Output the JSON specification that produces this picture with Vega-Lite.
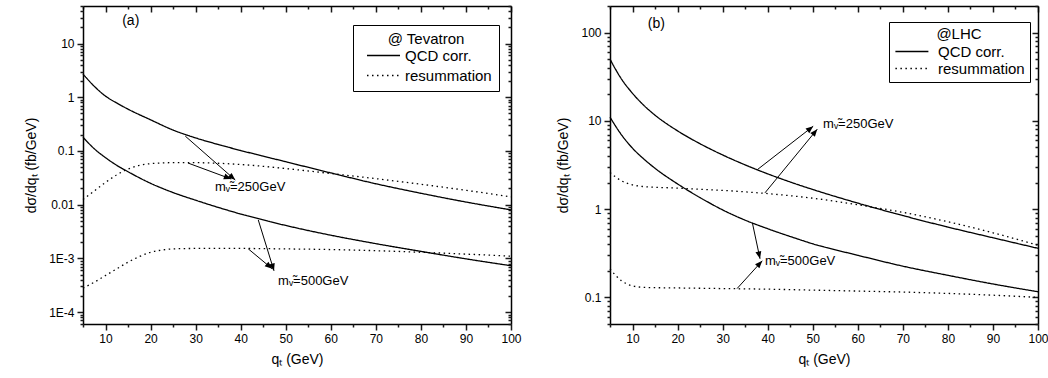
{
  "$schema": "https://vega.github.io/schema/vega-lite/v6.json",
  "background": "white",
  "padding": {"left": 24, "top": 5, "right": 5, "bottom": 5},
  "spacing": 34,
  "config": {
    "font": "Liberation Sans",
    "view": {"stroke": null},
    "axis": {"domainColor": "black", "domainWidth": 1.5, "ticks": true, "tickColor": "#1a1a1a", "tickWidth": 1.5, "tickOpacity": 1, "labelColor": "black", "titleColor": "black", "labelFontSize": 12, "titleFontSize": 14, "titleFontWeight": "normal", "grid": false, "labelOverlap": false, "labelFlush": false}
  },
  "datasets": {
    "tev": [
      {"type": "QCD corr.", "mass": 250, "q": 5, "v": 2.7},
      {"type": "QCD corr.", "mass": 250, "q": 7.5, "v": 1.6},
      {"type": "QCD corr.", "mass": 250, "q": 10, "v": 1.05},
      {"type": "QCD corr.", "mass": 250, "q": 12.5, "v": 0.78},
      {"type": "QCD corr.", "mass": 250, "q": 15, "v": 0.6},
      {"type": "QCD corr.", "mass": 250, "q": 20, "v": 0.38},
      {"type": "QCD corr.", "mass": 250, "q": 25, "v": 0.245},
      {"type": "QCD corr.", "mass": 250, "q": 30, "v": 0.175},
      {"type": "QCD corr.", "mass": 250, "q": 35, "v": 0.132},
      {"type": "QCD corr.", "mass": 250, "q": 40, "v": 0.102},
      {"type": "QCD corr.", "mass": 250, "q": 45, "v": 0.08},
      {"type": "QCD corr.", "mass": 250, "q": 50, "v": 0.063},
      {"type": "QCD corr.", "mass": 250, "q": 60, "v": 0.039},
      {"type": "QCD corr.", "mass": 250, "q": 70, "v": 0.0245},
      {"type": "QCD corr.", "mass": 250, "q": 80, "v": 0.0163},
      {"type": "QCD corr.", "mass": 250, "q": 90, "v": 0.0112},
      {"type": "QCD corr.", "mass": 250, "q": 100, "v": 0.008},
      {"type": "QCD corr.", "mass": 500, "q": 5, "v": 0.18},
      {"type": "QCD corr.", "mass": 500, "q": 7.5, "v": 0.11},
      {"type": "QCD corr.", "mass": 500, "q": 10, "v": 0.075},
      {"type": "QCD corr.", "mass": 500, "q": 12.5, "v": 0.054},
      {"type": "QCD corr.", "mass": 500, "q": 15, "v": 0.041},
      {"type": "QCD corr.", "mass": 500, "q": 20, "v": 0.025},
      {"type": "QCD corr.", "mass": 500, "q": 25, "v": 0.0168},
      {"type": "QCD corr.", "mass": 500, "q": 30, "v": 0.0121},
      {"type": "QCD corr.", "mass": 500, "q": 35, "v": 0.0089},
      {"type": "QCD corr.", "mass": 500, "q": 40, "v": 0.0067},
      {"type": "QCD corr.", "mass": 500, "q": 45, "v": 0.0052},
      {"type": "QCD corr.", "mass": 500, "q": 50, "v": 0.0041},
      {"type": "QCD corr.", "mass": 500, "q": 60, "v": 0.0027},
      {"type": "QCD corr.", "mass": 500, "q": 70, "v": 0.00188},
      {"type": "QCD corr.", "mass": 500, "q": 80, "v": 0.00135},
      {"type": "QCD corr.", "mass": 500, "q": 90, "v": 0.00098},
      {"type": "QCD corr.", "mass": 500, "q": 100, "v": 0.00073},
      {"type": "resummation", "mass": 250, "q": 5, "v": 0.0125},
      {"type": "resummation", "mass": 250, "q": 7.5, "v": 0.018},
      {"type": "resummation", "mass": 250, "q": 10, "v": 0.026},
      {"type": "resummation", "mass": 250, "q": 12.5, "v": 0.036},
      {"type": "resummation", "mass": 250, "q": 15, "v": 0.046},
      {"type": "resummation", "mass": 250, "q": 17.5, "v": 0.054},
      {"type": "resummation", "mass": 250, "q": 20, "v": 0.058},
      {"type": "resummation", "mass": 250, "q": 25, "v": 0.0605},
      {"type": "resummation", "mass": 250, "q": 30, "v": 0.0605},
      {"type": "resummation", "mass": 250, "q": 35, "v": 0.059},
      {"type": "resummation", "mass": 250, "q": 40, "v": 0.056},
      {"type": "resummation", "mass": 250, "q": 50, "v": 0.047},
      {"type": "resummation", "mass": 250, "q": 60, "v": 0.038},
      {"type": "resummation", "mass": 250, "q": 70, "v": 0.0305},
      {"type": "resummation", "mass": 250, "q": 80, "v": 0.024},
      {"type": "resummation", "mass": 250, "q": 90, "v": 0.0185},
      {"type": "resummation", "mass": 250, "q": 100, "v": 0.014},
      {"type": "resummation", "mass": 500, "q": 5, "v": 0.00028},
      {"type": "resummation", "mass": 500, "q": 7.5, "v": 0.00036},
      {"type": "resummation", "mass": 500, "q": 10, "v": 0.00048},
      {"type": "resummation", "mass": 500, "q": 12.5, "v": 0.00064},
      {"type": "resummation", "mass": 500, "q": 15, "v": 0.00085},
      {"type": "resummation", "mass": 500, "q": 17.5, "v": 0.00108},
      {"type": "resummation", "mass": 500, "q": 20, "v": 0.0013},
      {"type": "resummation", "mass": 500, "q": 22.5, "v": 0.00143},
      {"type": "resummation", "mass": 500, "q": 25, "v": 0.0015},
      {"type": "resummation", "mass": 500, "q": 30, "v": 0.00153},
      {"type": "resummation", "mass": 500, "q": 40, "v": 0.00153},
      {"type": "resummation", "mass": 500, "q": 50, "v": 0.0015},
      {"type": "resummation", "mass": 500, "q": 60, "v": 0.00146},
      {"type": "resummation", "mass": 500, "q": 70, "v": 0.00139},
      {"type": "resummation", "mass": 500, "q": 80, "v": 0.0013},
      {"type": "resummation", "mass": 500, "q": 90, "v": 0.0012},
      {"type": "resummation", "mass": 500, "q": 100, "v": 0.0011}
    ],
    "lhc": [
      {"type": "QCD corr.", "mass": 250, "q": 5, "v": 50},
      {"type": "QCD corr.", "mass": 250, "q": 7.5, "v": 30},
      {"type": "QCD corr.", "mass": 250, "q": 10, "v": 20.5},
      {"type": "QCD corr.", "mass": 250, "q": 12.5, "v": 15},
      {"type": "QCD corr.", "mass": 250, "q": 15, "v": 11.6},
      {"type": "QCD corr.", "mass": 250, "q": 20, "v": 7.7},
      {"type": "QCD corr.", "mass": 250, "q": 25, "v": 5.5},
      {"type": "QCD corr.", "mass": 250, "q": 30, "v": 4.11},
      {"type": "QCD corr.", "mass": 250, "q": 35, "v": 3.17},
      {"type": "QCD corr.", "mass": 250, "q": 40, "v": 2.51},
      {"type": "QCD corr.", "mass": 250, "q": 45, "v": 2.03},
      {"type": "QCD corr.", "mass": 250, "q": 50, "v": 1.67},
      {"type": "QCD corr.", "mass": 250, "q": 60, "v": 1.17},
      {"type": "QCD corr.", "mass": 250, "q": 70, "v": 0.846},
      {"type": "QCD corr.", "mass": 250, "q": 80, "v": 0.626},
      {"type": "QCD corr.", "mass": 250, "q": 90, "v": 0.474},
      {"type": "QCD corr.", "mass": 250, "q": 100, "v": 0.36},
      {"type": "QCD corr.", "mass": 500, "q": 5, "v": 11},
      {"type": "QCD corr.", "mass": 500, "q": 7.5, "v": 7},
      {"type": "QCD corr.", "mass": 500, "q": 10, "v": 4.9},
      {"type": "QCD corr.", "mass": 500, "q": 12.5, "v": 3.7},
      {"type": "QCD corr.", "mass": 500, "q": 15, "v": 2.9},
      {"type": "QCD corr.", "mass": 500, "q": 20, "v": 1.93},
      {"type": "QCD corr.", "mass": 500, "q": 25, "v": 1.35},
      {"type": "QCD corr.", "mass": 500, "q": 30, "v": 0.98},
      {"type": "QCD corr.", "mass": 500, "q": 35, "v": 0.75},
      {"type": "QCD corr.", "mass": 500, "q": 40, "v": 0.6},
      {"type": "QCD corr.", "mass": 500, "q": 45, "v": 0.49},
      {"type": "QCD corr.", "mass": 500, "q": 50, "v": 0.405},
      {"type": "QCD corr.", "mass": 500, "q": 60, "v": 0.3},
      {"type": "QCD corr.", "mass": 500, "q": 70, "v": 0.226},
      {"type": "QCD corr.", "mass": 500, "q": 80, "v": 0.178},
      {"type": "QCD corr.", "mass": 500, "q": 90, "v": 0.142},
      {"type": "QCD corr.", "mass": 500, "q": 100, "v": 0.116},
      {"type": "resummation", "mass": 250, "q": 5, "v": 2.6},
      {"type": "resummation", "mass": 250, "q": 7.5, "v": 2.1},
      {"type": "resummation", "mass": 250, "q": 10, "v": 1.88},
      {"type": "resummation", "mass": 250, "q": 12.5, "v": 1.8},
      {"type": "resummation", "mass": 250, "q": 15, "v": 1.77},
      {"type": "resummation", "mass": 250, "q": 20, "v": 1.73},
      {"type": "resummation", "mass": 250, "q": 25, "v": 1.68},
      {"type": "resummation", "mass": 250, "q": 30, "v": 1.63},
      {"type": "resummation", "mass": 250, "q": 35, "v": 1.57},
      {"type": "resummation", "mass": 250, "q": 40, "v": 1.5},
      {"type": "resummation", "mass": 250, "q": 45, "v": 1.42},
      {"type": "resummation", "mass": 250, "q": 50, "v": 1.33},
      {"type": "resummation", "mass": 250, "q": 60, "v": 1.12},
      {"type": "resummation", "mass": 250, "q": 70, "v": 0.92},
      {"type": "resummation", "mass": 250, "q": 80, "v": 0.72},
      {"type": "resummation", "mass": 250, "q": 90, "v": 0.54},
      {"type": "resummation", "mass": 250, "q": 100, "v": 0.39},
      {"type": "resummation", "mass": 500, "q": 5, "v": 0.21},
      {"type": "resummation", "mass": 500, "q": 7.5, "v": 0.155},
      {"type": "resummation", "mass": 500, "q": 10, "v": 0.135},
      {"type": "resummation", "mass": 500, "q": 12.5, "v": 0.13},
      {"type": "resummation", "mass": 500, "q": 15, "v": 0.129},
      {"type": "resummation", "mass": 500, "q": 20, "v": 0.128},
      {"type": "resummation", "mass": 500, "q": 30, "v": 0.126},
      {"type": "resummation", "mass": 500, "q": 40, "v": 0.124},
      {"type": "resummation", "mass": 500, "q": 50, "v": 0.121},
      {"type": "resummation", "mass": 500, "q": 60, "v": 0.118},
      {"type": "resummation", "mass": 500, "q": 70, "v": 0.115},
      {"type": "resummation", "mass": 500, "q": 80, "v": 0.111},
      {"type": "resummation", "mass": 500, "q": 90, "v": 0.106},
      {"type": "resummation", "mass": 500, "q": 100, "v": 0.1}
    ],
    "tevArrows": [
      {"id": "a1", "q1": 27.7, "v1": 0.189, "q2": 38.8, "v2": 0.0288},
      {"id": "a2", "q1": 28.3, "v1": 0.0596, "q2": 37.9, "v2": 0.03},
      {"id": "a3", "q1": 43.9, "v1": 0.0052, "q2": 47.4, "v2": 0.000586},
      {"id": "a4", "q1": 41.7, "v1": 0.0015, "q2": 47.0, "v2": 0.00064}
    ],
    "lhcArrows": [
      {"id": "b1", "q1": 37.7, "v1": 2.8, "q2": 50.1, "v2": 8.69},
      {"id": "b2", "q1": 39.4, "v1": 1.53, "q2": 51.0, "v2": 8.04},
      {"id": "b3", "q1": 36.6, "v1": 0.7, "q2": 38.3, "v2": 0.274},
      {"id": "b4", "q1": 33.2, "v1": 0.126, "q2": 38.8, "v2": 0.26}
    ],
    "tevText": [
      {"q": 34.3, "v": 0.0213, "label": "m\u1d65\u0303=250GeV", "size": "s"},
      {"q": 48.3, "v": 0.00038, "label": "m\u1d65\u0303=500GeV", "size": "s"},
      {"q": 13.7, "v": 26, "label": "(a)", "size": "l"}
    ],
    "lhcText": [
      {"q": 52.3, "v": 9.16, "label": "m\u1d65\u0303=250GeV", "size": "s"},
      {"q": 39.4, "v": 0.26, "label": "m\u1d65\u0303=500GeV", "size": "s"},
      {"q": 13.4, "v": 126, "label": "(b)", "size": "l"}
    ]
  },
  "resolve": {"scale": {"strokeDash": "independent"}, "legend": {"strokeDash": "independent"}},
  "hconcat": [
    {
      "width": 428,
      "height": 318,
      "resolve": {"axis": {"x": "independent", "y": "independent"}},
      "layer": [
        {
          "data": {"name": "tev"},
          "mark": {"type": "line", "color": "black", "strokeWidth": 1.3, "interpolate": "monotone"},
          "encoding": {
            "x": {"field": "q", "type": "quantitative", "scale": {"domain": [5, 100], "nice": false, "zero": false},
              "axis": {"orient": "bottom", "title": "q\u209c (GeV)", "values": [10, 20, 30, 40, 50, 60, 70, 80, 90, 100], "tickSize": 6, "tickColor": "#1a1a1a", "labelPadding": 3, "titlePadding": 8}},
            "y": {"field": "v", "type": "quantitative", "scale": {"type": "log", "domain": [6e-5, 50], "nice": false},
              "axis": {"orient": "left", "title": "d\u03c3/dq\u209c (fb/GeV)", "values": [1e-4, 1e-3, 0.01, 0.1, 1, 10],
                "labelExpr": "datum.value===10?'10':datum.value===1?'1':datum.value===0.1?'0.1':datum.value===0.01?'0.01':datum.value===0.001?'1E-3':'1E-4'",
                "tickSize": 6, "tickColor": "#1a1a1a", "labelPadding": 3, "titlePadding": 10}},
            "detail": {"field": "mass", "type": "nominal"},
            "strokeDash": {"field": "type", "type": "nominal",
              "scale": {"domain": ["QCD corr.", "resummation"], "range": [[1, 0], [1.5, 3.5]]},
              "legend": {"orient": "none", "legendX": 270, "legendY": 19, "title": "@ Tevatron", "titleAnchor": "middle", "titleFontSize": 15, "titleFontWeight": "normal", "titleColor": "black", "labelFontSize": 15, "labelColor": "black", "symbolType": "M-2.2,0L2.2,0", "symbolSize": 225, "symbolStrokeWidth": 1.3, "symbolStrokeColor": "black", "symbolOffset": 15, "labelOffset": 13, "strokeColor": "black", "fillColor": "white", "padding": 7, "rowPadding": 3, "titlePadding": 0}}
          }
        },
        {
          "data": {"name": "tev"},
          "mark": {"type": "point", "opacity": 0},
          "encoding": {
            "x": {"field": "q", "type": "quantitative",
              "axis": {"orient": "bottom", "title": null, "labels": false, "domain": false, "values": [5, 15, 25, 35, 45, 55, 65, 75, 85, 95], "tickSize": 3, "tickColor": "#1a1a1a", "minExtent": 0, "maxExtent": 0}},
            "y": {"field": "v", "type": "quantitative",
              "axis": {"orient": "left", "title": null, "labels": false, "domain": false, "minExtent": 0, "maxExtent": 0, "tickSize": 3, "tickColor": "#1a1a1a",
                "values": [6e-5, 7e-5, 8e-5, 9e-5, 2e-4, 3e-4, 4e-4, 5e-4, 6e-4, 7e-4, 8e-4, 9e-4, 2e-3, 3e-3, 4e-3, 5e-3, 6e-3, 7e-3, 8e-3, 9e-3, 0.02, 0.03, 0.04, 0.05, 0.06, 0.07, 0.08, 0.09, 0.2, 0.3, 0.4, 0.5, 0.6, 0.7, 0.8, 0.9, 2, 3, 4, 5, 6, 7, 8, 9, 20, 30, 40, 50]}}
          }
        },
        {
          "data": {"name": "tev"},
          "mark": {"type": "point", "opacity": 0},
          "encoding": {
            "x": {"field": "q", "type": "quantitative",
              "axis": {"orient": "top", "title": null, "labels": false, "values": [10, 20, 30, 40, 50, 60, 70, 80, 90, 100], "tickSize": -6, "tickColor": "#1a1a1a", "minExtent": 0, "maxExtent": 0}},
            "y": {"field": "v", "type": "quantitative",
              "axis": {"orient": "right", "title": null, "labels": false, "values": [1e-4, 1e-3, 0.01, 0.1, 1, 10], "tickSize": -6, "tickColor": "#1a1a1a", "minExtent": 0, "maxExtent": 0}}
          }
        },
        {
          "data": {"name": "tev"},
          "mark": {"type": "point", "opacity": 0},
          "encoding": {
            "x": {"field": "q", "type": "quantitative",
              "axis": {"orient": "top", "title": null, "labels": false, "domain": false, "values": [5, 15, 25, 35, 45, 55, 65, 75, 85, 95], "tickSize": -3, "tickColor": "#1a1a1a", "minExtent": 0, "maxExtent": 0}},
            "y": {"field": "v", "type": "quantitative",
              "axis": {"orient": "right", "title": null, "labels": false, "domain": false, "minExtent": 0, "maxExtent": 0, "tickSize": -3, "tickColor": "#1a1a1a",
                "values": [6e-5, 7e-5, 8e-5, 9e-5, 2e-4, 3e-4, 4e-4, 5e-4, 6e-4, 7e-4, 8e-4, 9e-4, 2e-3, 3e-3, 4e-3, 5e-3, 6e-3, 7e-3, 8e-3, 9e-3, 0.02, 0.03, 0.04, 0.05, 0.06, 0.07, 0.08, 0.09, 0.2, 0.3, 0.4, 0.5, 0.6, 0.7, 0.8, 0.9, 2, 3, 4, 5, 6, 7, 8, 9, 20, 30, 40, 50]}}
          }
        },
        {
          "data": {"name": "tevArrows"},
          "mark": {"type": "rule", "color": "black", "strokeWidth": 1},
          "encoding": {
            "x": {"field": "q1", "type": "quantitative", "axis": null},
            "y": {"field": "v1", "type": "quantitative", "axis": null},
            "x2": {"field": "q2"},
            "y2": {"field": "v2"}
          }
        },
        {
          "data": {"name": "tevArrows"},
          "mark": {"type": "point", "filled": true, "color": "black", "opacity": 1, "size": 220, "shape": "M0,0L-0.4,1L0.4,1Z"},
          "encoding": {
            "x": {"field": "q2", "type": "quantitative", "axis": null},
            "y": {"field": "v2", "type": "quantitative", "axis": null},
            "angle": {"condition": [{"test": "datum.id==='a1'", "value": 131}, {"test": "datum.id==='a2'", "value": 111}, {"test": "datum.id==='a3'", "value": 163}], "value": 130}
          }
        },
        {
          "data": {"name": "tevText"},
          "mark": {"type": "text", "align": "left", "baseline": "middle", "color": "black"},
          "encoding": {
            "x": {"field": "q", "type": "quantitative", "axis": null},
            "y": {"field": "v", "type": "quantitative", "axis": null},
            "text": {"field": "label"},
            "size": {"condition": {"test": "datum.size==='l'", "value": 14}, "value": 13}
          }
        }
      ]
    },
    {
      "width": 428,
      "height": 318,
      "resolve": {"axis": {"x": "independent", "y": "independent"}},
      "layer": [
        {
          "data": {"name": "lhc"},
          "mark": {"type": "line", "color": "black", "strokeWidth": 1.3, "interpolate": "monotone"},
          "encoding": {
            "x": {"field": "q", "type": "quantitative", "scale": {"domain": [5, 100], "nice": false, "zero": false},
              "axis": {"orient": "bottom", "title": "q\u209c (GeV)", "values": [10, 20, 30, 40, 50, 60, 70, 80, 90, 100], "tickSize": 6, "tickColor": "#1a1a1a", "labelPadding": 3, "titlePadding": 8}},
            "y": {"field": "v", "type": "quantitative", "scale": {"type": "log", "domain": [0.05, 200], "nice": false},
              "axis": {"orient": "left", "title": "d\u03c3/dq\u209c (fb/GeV)", "values": [0.1, 1, 10, 100],
                "labelExpr": "datum.value===100?'100':datum.value===10?'10':datum.value===1?'1':'0.1'",
                "tickSize": 6, "tickColor": "#1a1a1a", "labelPadding": 3, "titlePadding": 10}},
            "detail": {"field": "mass", "type": "nominal"},
            "strokeDash": {"field": "type", "type": "nominal",
              "scale": {"domain": ["QCD corr.", "resummation"], "range": [[1, 0], [1.5, 3.5]]},
              "legend": {"orient": "none", "legendX": 279, "legendY": 16, "title": "@LHC", "titleAnchor": "middle", "titleFontSize": 15, "titleFontWeight": "normal", "titleColor": "black", "labelFontSize": 15, "labelColor": "black", "symbolType": "M-2.2,0L2.2,0", "symbolSize": 225, "symbolStrokeWidth": 1.3, "symbolStrokeColor": "black", "symbolOffset": 9.4, "labelOffset": 17.6, "strokeColor": "black", "fillColor": "white", "padding": 5, "rowPadding": 0, "titlePadding": 1}}
          }
        },
        {
          "data": {"name": "lhc"},
          "mark": {"type": "point", "opacity": 0},
          "encoding": {
            "x": {"field": "q", "type": "quantitative",
              "axis": {"orient": "bottom", "title": null, "labels": false, "domain": false, "values": [5, 15, 25, 35, 45, 55, 65, 75, 85, 95], "tickSize": 3, "tickColor": "#1a1a1a", "minExtent": 0, "maxExtent": 0}},
            "y": {"field": "v", "type": "quantitative",
              "axis": {"orient": "left", "title": null, "labels": false, "domain": false, "minExtent": 0, "maxExtent": 0, "tickSize": 3, "tickColor": "#1a1a1a",
                "values": [0.05, 0.06, 0.07, 0.08, 0.09, 0.2, 0.3, 0.4, 0.5, 0.6, 0.7, 0.8, 0.9, 2, 3, 4, 5, 6, 7, 8, 9, 20, 30, 40, 50, 60, 70, 80, 90, 200]}}
          }
        },
        {
          "data": {"name": "lhc"},
          "mark": {"type": "point", "opacity": 0},
          "encoding": {
            "x": {"field": "q", "type": "quantitative",
              "axis": {"orient": "top", "title": null, "labels": false, "values": [10, 20, 30, 40, 50, 60, 70, 80, 90, 100], "tickSize": -6, "tickColor": "#1a1a1a", "minExtent": 0, "maxExtent": 0}},
            "y": {"field": "v", "type": "quantitative",
              "axis": {"orient": "right", "title": null, "labels": false, "values": [0.1, 1, 10, 100], "tickSize": -6, "tickColor": "#1a1a1a", "minExtent": 0, "maxExtent": 0}}
          }
        },
        {
          "data": {"name": "lhc"},
          "mark": {"type": "point", "opacity": 0},
          "encoding": {
            "x": {"field": "q", "type": "quantitative",
              "axis": {"orient": "top", "title": null, "labels": false, "domain": false, "values": [5, 15, 25, 35, 45, 55, 65, 75, 85, 95], "tickSize": -3, "tickColor": "#1a1a1a", "minExtent": 0, "maxExtent": 0}},
            "y": {"field": "v", "type": "quantitative",
              "axis": {"orient": "right", "title": null, "labels": false, "domain": false, "minExtent": 0, "maxExtent": 0, "tickSize": -3, "tickColor": "#1a1a1a",
                "values": [0.05, 0.06, 0.07, 0.08, 0.09, 0.2, 0.3, 0.4, 0.5, 0.6, 0.7, 0.8, 0.9, 2, 3, 4, 5, 6, 7, 8, 9, 20, 30, 40, 50, 60, 70, 80, 90, 200]}}
          }
        },
        {
          "data": {"name": "lhcArrows"},
          "mark": {"type": "rule", "color": "black", "strokeWidth": 1},
          "encoding": {
            "x": {"field": "q1", "type": "quantitative", "axis": null},
            "y": {"field": "v1", "type": "quantitative", "axis": null},
            "x2": {"field": "q2"},
            "y2": {"field": "v2"}
          }
        },
        {
          "data": {"name": "lhcArrows"},
          "mark": {"type": "point", "filled": true, "color": "black", "opacity": 1, "size": 220, "shape": "M0,0L-0.4,1L0.4,1Z"},
          "encoding": {
            "x": {"field": "q2", "type": "quantitative", "axis": null},
            "y": {"field": "v2", "type": "quantitative", "axis": null},
            "angle": {"condition": [{"test": "datum.id==='b1'", "value": 51}, {"test": "datum.id==='b2'", "value": 39}, {"test": "datum.id==='b3'", "value": 167}], "value": 43}
          }
        },
        {
          "data": {"name": "lhcText"},
          "mark": {"type": "text", "align": "left", "baseline": "middle", "color": "black"},
          "encoding": {
            "x": {"field": "q", "type": "quantitative", "axis": null},
            "y": {"field": "v", "type": "quantitative", "axis": null},
            "text": {"field": "label"},
            "size": {"condition": {"test": "datum.size==='l'", "value": 14}, "value": 13}
          }
        }
      ]
    }
  ]
}
